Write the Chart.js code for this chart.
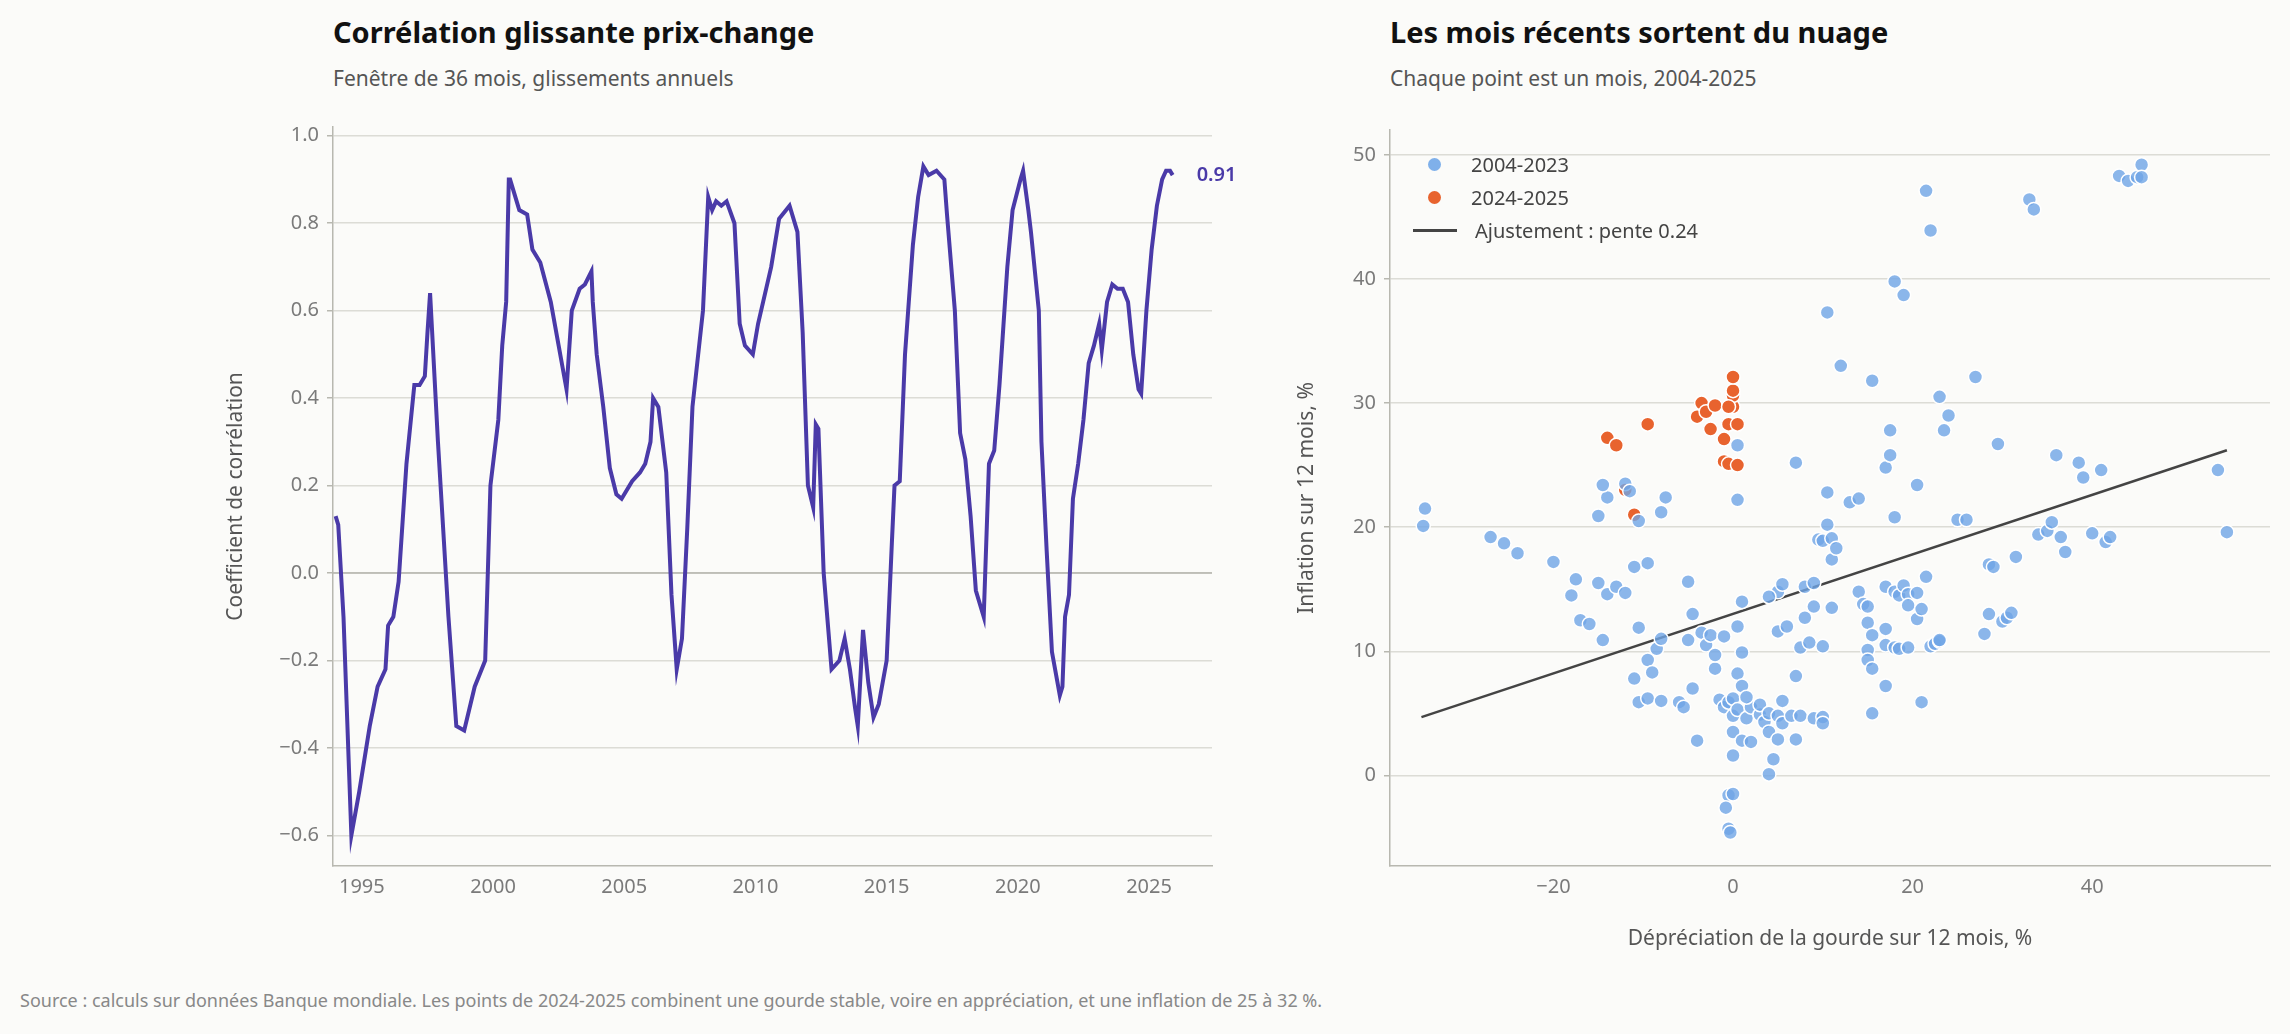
<!DOCTYPE html>
<html><head><meta charset="utf-8">
<script src="https://cdn.jsdelivr.net/npm/chart.js@4/dist/chart.umd.min.js"></script>
<style>
body{margin:0;width:2290px;height:1034px;background:#fbfbf9;font-family:"Noto Sans",sans-serif;position:relative;overflow:hidden}
.t{position:absolute;font-weight:700;font-size:29px;color:#111}
.s{position:absolute;font-size:21px;color:#555}
.c{position:absolute}
.lg{position:absolute;left:1410px;top:148px;font-size:20px;color:#444;line-height:33px}
.lg div{display:flex;align-items:center}
.dot{display:inline-block;width:13px;height:13px;border-radius:50%;margin:0 30px 0 18px}
.ln{display:inline-block;width:44px;height:3px;background:#444;margin:0 18px 0 3px}
.src{position:absolute;left:20px;top:988px;font-size:18px;color:#888}
</style></head><body>
<div class="t" style="left:333px;top:12px">Corrélation glissante prix-change</div>
<div class="s" style="left:333px;top:64px">Fenêtre de 36 mois, glissements annuels</div>
<div class="t" style="left:1390px;top:12px">Les mois récents sortent du nuage</div>
<div class="s" style="left:1390px;top:64px">Chaque point est un mois, 2004-2025</div>
<canvas id="a" class="c" style="left:219px;top:107px" width="1061" height="813"></canvas>
<canvas id="b" class="c" style="left:1290px;top:110px" width="990" height="846"></canvas>
<div class="lg">
<div><span class="dot" style="background:#7fb0ea"></span>2004-2023</div>
<div><span class="dot" style="background:#e8632e"></span>2024-2025</div>
<div><span class="ln"></span>Ajustement : pente 0.24</div>
</div>
<div class="src">Source : calculs sur données Banque mondiale. Les points de 2024-2025 combinent une gourde stable, voire en appréciation, et une inflation de 25 à 32 %.</div>
<script>
const corrYears=[1994.0,1994.1,1994.3,1994.6,1994.9,1995.3,1995.6,1995.9,1996.0,1996.2,1996.4,1996.7,1997.0,1997.2,1997.4,1997.5,1997.6,1997.9,1998.3,1998.6,1998.9,1999.3,1999.7,1999.9,2000.2,2000.35,2000.5,2000.6,2000.65,2000.8,2001.0,2001.3,2001.5,2001.8,2002.2,2002.5,2002.65,2002.8,2003.0,2003.3,2003.5,2003.75,2003.8,2003.95,2004.2,2004.45,2004.7,2004.9,2005.3,2005.6,2005.8,2006.0,2006.1,2006.3,2006.6,2006.8,2007.0,2007.2,2007.4,2007.6,2008.0,2008.2,2008.35,2008.5,2008.7,2008.9,2009.2,2009.4,2009.6,2009.9,2010.1,2010.6,2010.9,2011.3,2011.6,2011.8,2012.0,2012.2,2012.3,2012.4,2012.6,2012.9,2013.2,2013.4,2013.6,2013.8,2013.9,2014.1,2014.3,2014.5,2014.7,2015.0,2015.2,2015.3,2015.5,2015.7,2016.0,2016.2,2016.4,2016.6,2016.9,2017.2,2017.3,2017.6,2017.8,2018.0,2018.2,2018.4,2018.7,2018.9,2019.1,2019.3,2019.6,2019.8,2020.1,2020.2,2020.4,2020.5,2020.8,2020.9,2021.1,2021.3,2021.6,2021.7,2021.8,2021.95,2022.1,2022.3,2022.5,2022.7,2022.9,2023.1,2023.2,2023.4,2023.6,2023.8,2024.0,2024.2,2024.4,2024.6,2024.7,2024.9,2025.1,2025.3,2025.5,2025.65,2025.8,2025.9];
const corrValues=[0.13,0.11,-0.1,-0.6,-0.5,-0.35,-0.26,-0.22,-0.12,-0.1,-0.02,0.25,0.43,0.43,0.45,0.55,0.64,0.3,-0.1,-0.35,-0.36,-0.26,-0.2,0.2,0.35,0.52,0.62,0.9,0.9,0.87,0.83,0.82,0.74,0.71,0.62,0.52,0.47,0.42,0.6,0.65,0.66,0.69,0.62,0.5,0.38,0.24,0.18,0.17,0.21,0.23,0.25,0.3,0.4,0.38,0.23,-0.05,-0.22,-0.15,0.1,0.38,0.6,0.86,0.83,0.85,0.84,0.85,0.8,0.57,0.52,0.5,0.57,0.7,0.81,0.84,0.78,0.55,0.2,0.15,0.34,0.33,0.0,-0.22,-0.2,-0.15,-0.22,-0.31,-0.35,-0.13,-0.25,-0.33,-0.3,-0.2,0.07,0.2,0.21,0.5,0.75,0.86,0.93,0.91,0.92,0.9,0.82,0.6,0.32,0.26,0.13,-0.04,-0.1,0.25,0.28,0.43,0.7,0.83,0.9,0.92,0.83,0.78,0.6,0.3,0.05,-0.18,-0.28,-0.26,-0.1,-0.05,0.17,0.25,0.35,0.48,0.52,0.57,0.51,0.62,0.66,0.65,0.65,0.62,0.5,0.42,0.41,0.6,0.74,0.84,0.9,0.92,0.92,0.91];
const yearTicks=[1995,2000,2005,2010,2015,2020,2025];
const oldDep=[-34.5,-34.3,-27,-25.5,-24,-20,-18,-17.5,-17,-16,-15,-14,-14.5,-15,-14,-14.5,-12,-11.5,-10.5,-11,-9.5,-13,-12,-10.5,-11,-10.5,-9.5,-9,-9.5,-8.5,-8,-8,-7.5,-8,-6,-5.5,-5,-4.5,-5,-4.5,-4,-3.5,-3,-2.5,-2,-2,-1.5,-1,-1,-0.5,0,0,0.5,0,-0.5,0,-0.8,-0.5,-0.3,0,0.5,1,1.5,1,2,2,1.5,1,0.5,0.5,0.5,1,3,3,3.5,4,4,4,4.5,5,5,5.5,5.5,5,5,4,5.5,6,6.5,7,7,7.5,7.5,7,8,8,8.5,9,9,9,10,10,10,9.5,10,10.5,10.5,11,11,11.5,11,10.5,12,13,14,14,14.5,15,15,15.5,15,15,15.5,15.5,15.5,17,17.5,17.5,17,17,17,17,18,18,18.5,18,18.5,19,19.5,19.5,19.5,18,19,20.5,20.5,20.5,21,21,21.5,21.5,22,22,22.5,23,23,23,23.5,24,25,26,27,28,28.5,29,28.5,29.5,30,30.5,31,31.5,33,33.5,34,35,35.5,36,36.5,37,38.5,39,40,41,41.5,42,43,44,45,45.5,45.5,54,55];
const oldInf=[20.1,21.5,19.2,18.7,17.9,17.2,14.5,15.8,12.5,12.2,15.5,14.6,10.9,20.9,22.4,23.4,23.5,22.9,20.5,16.8,17.1,15.2,14.7,11.9,7.8,5.9,9.3,8.3,6.2,10.2,11,21.2,22.4,6,5.9,5.5,15.6,13,10.9,7,2.8,11.5,10.5,11.3,8.6,9.7,6.1,5.5,11.2,5.9,4.8,6.2,5.3,1.6,-1.6,-1.5,-2.6,-4.3,-4.6,3.5,8.2,7.2,4.6,2.8,2.7,5.5,6.3,9.9,12,22.2,26.6,14,4.9,5.7,4.3,3.5,5,0.1,1.3,4.8,2.9,4.2,6,11.6,14.8,14.4,15.4,12,4.8,2.9,8,10.3,4.8,25.2,12.7,15.2,10.7,13.6,15.5,4.6,4.7,4.2,10.4,19,18.9,20.2,22.8,17.4,19.1,18.3,13.5,37.3,33,22,22.3,14.8,13.8,13.6,12.3,11.3,10.1,9.3,8.6,5,31.8,24.8,25.8,27.8,15.2,11.8,10.5,7.2,14.8,20.8,14.5,10.3,10.2,15.3,14.6,13.7,10.3,39.8,38.7,23.4,14.7,12.6,13.4,5.9,16,47.1,43.9,10.4,10.6,10.8,10.9,30.5,27.8,29,20.6,20.6,32.1,11.4,17,16.8,13,26.7,12.4,12.7,13.1,17.6,46.4,45.6,19.4,19.7,20.4,25.8,19.2,18,25.2,24,19.5,24.6,18.8,19.2,48.3,47.9,48.2,49.2,48.2,24.6,19.6];
const newDep=[-14,-13,-12,-11,-9.5,-4,-3.5,-3,-2.5,-2,-1,-1,-0.5,-0.5,0,0,0,0,0.5,0.5,-0.5];
const newInf=[27.2,26.6,23,21,28.3,28.9,30,29.3,27.9,29.8,25.3,27.1,28.3,25.1,29.7,30.6,31,32.1,28.3,25,29.7];
const fitX=[-34.7,55];
const fitY=[4.7,26.2];
const FONT="'Noto Sans', sans-serif";
Chart.defaults.font.family=FONT;
const gridC='#dcdcd6', axC='#b8b8b0', tickC='#7a7a7a';

const endLabel={id:'endLabel',afterDatasetsDraw(ch){const m=ch.getDatasetMeta(0);const p=m.data[m.data.length-1];const c=ch.ctx;c.save();c.font='600 20px '+FONT;c.fillStyle='#4a3aa8';c.textBaseline='middle';c.fillText(corrValues[corrValues.length-1].toFixed(2),p.x+24,p.y);c.restore();}};
const zeroLine={id:'zeroLine',beforeDatasetsDraw(ch){const y=ch.scales.y.getPixelForValue(0);const c=ch.ctx;c.save();c.strokeStyle='#b5b5ad';c.lineWidth=1.5;c.beginPath();c.moveTo(ch.chartArea.left,y);c.lineTo(ch.chartArea.right,y);c.stroke();c.restore();}};

new Chart(document.getElementById('a'),{type:'line',
data:{datasets:[{data:corrYears.map((x,i)=>({x,y:corrValues[i]})),borderColor:'#4a3aa8',borderWidth:4,pointRadius:0,tension:0}]},
plugins:[endLabel,zeroLine],
options:{responsive:false,animation:false,layout:{padding:{top:8,right:68,left:0,bottom:0}},
plugins:{legend:{display:false},tooltip:{enabled:false}},
scales:{x:{type:'linear',min:1993.9,max:2027.4,afterBuildTicks(s){s.ticks=yearTicks.map(v=>({value:v}));},afterFit(s){s.height=54;},
ticks:{color:tickC,font:{size:20},callback:v=>String(v),maxRotation:0},grid:{display:false,drawTicks:true,tickColor:axC,tickLength:6},border:{color:axC,width:1.5}},
y:{min:-0.67,max:1.02,afterBuildTicks(s){s.ticks=[-0.6,-0.4,-0.2,0,0.2,0.4,0.6,0.8,1.0].map(v=>({value:v}));},afterFit(s){s.width=114;},
ticks:{color:tickC,font:{size:20},callback:v=>(v<0?'\u2212':'')+Math.abs(v).toFixed(1),padding:8},
grid:{color:gridC,lineWidth:1.5,tickColor:axC,tickLength:6},border:{color:axC,width:1.5},
title:{display:true,text:'Coefficient de corrélation',color:'#555',font:{size:21}}}}}});

new Chart(document.getElementById('b'),{type:'scatter',
data:{datasets:[
{data:oldDep.map((x,i)=>({x,y:oldInf[i]})),backgroundColor:'rgba(111,165,230,0.8)',borderColor:'#ffffff',borderWidth:1.5,pointRadius:7},
{data:newDep.map((x,i)=>({x,y:newInf[i]})),backgroundColor:'#e8632e',borderColor:'#ffffff',borderWidth:1.5,pointRadius:7},
{type:'line',data:fitX.map((x,i)=>({x,y:fitY[i]})),borderColor:'#444',borderWidth:2.5,pointRadius:0}]},
options:{responsive:false,animation:false,layout:{padding:{top:8,right:10}},
plugins:{legend:{display:false},tooltip:{enabled:false}},
scales:{x:{type:'linear',min:-38.2,max:59.8,afterBuildTicks(s){s.ticks=[-20,0,20,40].map(v=>({value:v}));},afterFit(s){s.height=90;},
ticks:{color:tickC,font:{size:20},callback:v=>(v<0?'\u2212':'')+Math.abs(v),maxRotation:0},grid:{display:false,tickColor:axC,tickLength:6},border:{color:axC,width:1.5},
title:{display:true,text:'Dépréciation de la gourde sur 12 mois, %',color:'#555',font:{size:21},padding:{top:6}}},
y:{min:-7.3,max:52,afterBuildTicks(s){s.ticks=[0,10,20,30,40,50].map(v=>({value:v}));},afterFit(s){s.width=100;},
ticks:{color:tickC,font:{size:20},padding:8},grid:{color:gridC,lineWidth:1.5,tickColor:axC,tickLength:6},border:{color:axC,width:1.5},
title:{display:true,text:'Inflation sur 12 mois, %',color:'#555',font:{size:21}}}}}});
</script></body></html>
